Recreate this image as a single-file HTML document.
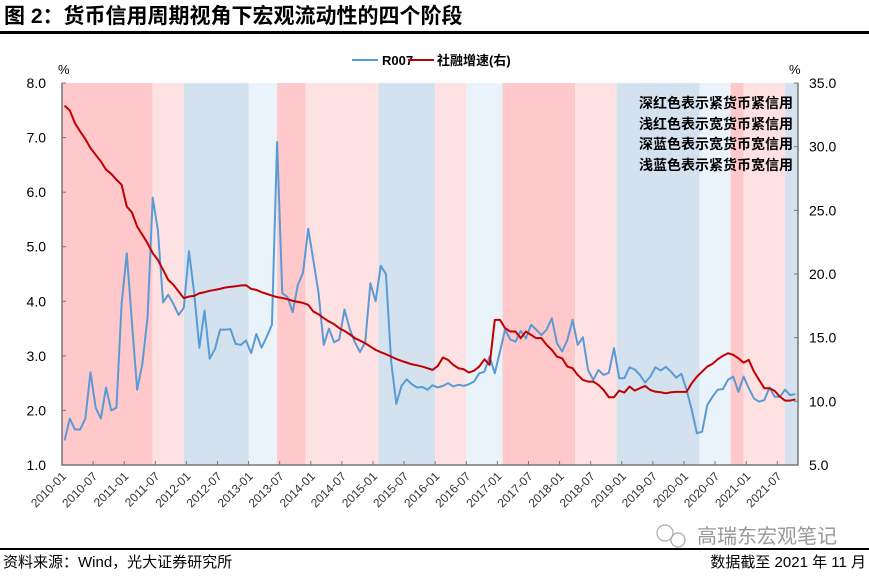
<!DOCTYPE html>
<html><head><meta charset="utf-8"><style>
body{margin:0;background:#fff;width:869px;height:573px;overflow:hidden;font-family:"Liberation Sans","Noto Sans CJK SC",sans-serif}
svg text{font-family:"Liberation Sans","Noto Sans CJK SC",sans-serif}
</style></head><body>
<svg id="c" width="869" height="573">
<text x="4" y="23" font-size="21" font-weight="bold" fill="#000">图 2：货币信用周期视角下宏观流动性的四个阶段</text>
<rect x="0" y="31" width="869" height="3" fill="#000"/>
<g id="bands"></g>
<g id="axes"></g>
<g id="series"></g>
<g>
<line x1="352" y1="60" x2="378" y2="60" stroke="#5b9bd5" stroke-width="2"/>
<text x="382" y="65" font-size="13" font-weight="bold">R007</text>
<line x1="408" y1="60" x2="434" y2="60" stroke="#c00000" stroke-width="2"/>
<text x="437" y="65" font-size="13" font-weight="bold">社融增速(右)</text>
</g>
<g font-size="14" font-weight="bold" text-anchor="end">
<text x="793" y="108">深红色表示紧货币紧信用</text>
<text x="793" y="129">浅红色表示宽货币紧信用</text>
<text x="793" y="149">深蓝色表示宽货币宽信用</text>
<text x="793" y="170">浅蓝色表示紧货币宽信用</text>
</g>
<text x="58" y="74" font-size="13">%</text>
<text x="789" y="74" font-size="13">%</text>
<g>
<circle cx="665" cy="533" r="8" fill="none" stroke="#aaa" stroke-width="1.2"/>
<circle cx="678" cy="540" r="7" fill="none" stroke="#aaa" stroke-width="1.2"/>
<text x="697" y="543" font-size="20" fill="#999">高瑞东宏观笔记</text>
</g>
<rect x="0" y="548" width="869" height="2" fill="#000"/>
<text x="3" y="567" font-size="15">资料来源：Wind，光大证券研究所</text>
<text x="866" y="567" font-size="15" text-anchor="end">数据截至 2021 年 11 月</text>
</svg>
<script>
const r007 = [1.45,1.85,1.65,1.65,1.85,2.7,2.05,1.85,2.42,2.0,
2.05,3.95,4.88,3.6,2.38,2.85,3.7,5.9,5.3,3.98,
4.12,3.95,3.75,3.88,4.92,4.15,3.15,3.83,2.95,3.12,
3.48,3.48,3.49,3.22,3.2,3.28,3.05,3.4,3.15,3.35,
3.57,6.92,4.15,4.08,3.8,4.3,4.52,5.33,4.75,4.15,
3.2,3.5,3.25,3.3,3.85,3.5,3.25,3.07,3.25,4.33,
4.0,4.65,4.5,2.9,2.12,2.45,2.57,2.48,2.42,2.43,
2.38,2.46,
2.42,2.45,2.50,2.44,2.47,2.45,2.48,2.53,2.68,2.71,
2.99,2.68,3.08,3.48,3.30,3.26,3.46,3.32,3.57,3.48,
3.38,3.48,3.69,3.23,3.08,3.29,3.66,3.20,3.34,2.74,
2.56,2.74,2.65,2.69,3.14,2.59,2.59,2.79,2.75,2.65,
2.51,2.62,2.79,2.73,2.80,2.71,2.60,2.67,2.38,2.01,
1.58,1.61,2.10,2.25,2.38,2.39,2.56,2.62,2.34,2.62,
2.41,2.22,2.16,2.19,2.42,2.25,2.25,2.38,2.28,2.30];
const tsf = [33.22,32.85,31.85,31.20,30.60,29.89,29.36,28.84,28.19,27.87,
27.40,27.01,25.30,24.83,23.73,23.08,22.42,21.64,21.11,20.33,
19.54,19.15,18.62,18.10,18.23,18.28,18.49,18.57,18.68,18.75,
18.83,18.94,18.99,19.04,19.10,19.12,18.83,18.75,18.57,18.44,
18.31,18.18,18.12,18.02,17.89,17.81,17.73,17.58,17.05,16.84,
16.53,16.27,16.06,15.74,15.53,15.27,14.96,14.77,14.56,14.30,
14.04,13.86,13.70,13.51,13.33,13.17,13.04,12.91,12.83,12.73,
12.60,12.47,
12.78,13.44,13.25,12.86,12.60,12.52,12.26,12.41,12.73,13.30,
12.86,16.40,16.40,15.74,15.48,15.48,14.96,15.48,15.22,14.96,
14.96,14.43,14.04,13.51,13.38,12.73,12.60,12.07,11.68,11.55,
11.55,11.29,10.89,10.32,10.32,10.84,10.69,11.16,10.84,11.03,
11.21,10.89,10.76,10.71,10.63,10.71,10.74,10.74,10.74,11.42,
11.94,12.34,12.73,12.94,13.30,13.57,13.78,13.65,13.38,13.04,
13.25,12.34,11.68,11.03,11.03,10.82,10.37,10.06,10.06,10.16];
const tickLabels = ["2010-01","2010-07","2011-01","2011-07","2012-01","2012-07","2013-01","2013-07","2014-01","2014-07","2015-01","2015-07","2016-01","2016-07","2017-01","2017-07","2018-01","2018-07","2019-01","2019-07","2020-01","2020-07","2021-01","2021-07"];
const leftTicks = [1,2,3,4,5,6,7,8];
const rightTicks = [5,10,15,20,25,30,35];
const bandStart = [0,17.5,23.5,36,41.5,47,61,72,78,85,99,107,123,129,131.5,139.5];
const bandEnd = [17.5,23.5,36,41.5,47,61,72,78,85,99,107,123,129,131.5,139.5,142];
const bandType = ["dr","lr","db","lb","dr","lr","db","lr","lb","dr","lr","db","lb","dr","lr","db"];
const N = 142;
const X0=62,X1=798,Y0=83,Y1=465;
const bandColor={dr:"#ffc9cb",lr:"#fee2e3",db:"#d4e2ef",lb:"#eaf2fa"};
const xc=i=>X0+(i+0.5)*(X1-X0)/N;
const xb=i=>X0+i*(X1-X0)/N;
const yl=v=>Y1-(v-1)/7*(Y1-Y0);
const yr=v=>Y1-(v-5)/30*(Y1-Y0);
const NS="http://www.w3.org/2000/svg";
function mk(tag,attrs,parent){const e=document.createElementNS(NS,tag);for(const k in attrs)e.setAttribute(k,attrs[k]);parent.appendChild(e);return e;}
const gB=document.getElementById('bands'),gA=document.getElementById('axes'),gS=document.getElementById('series');
bandStart.forEach((s,i)=>{const r=mk('rect',{x:xb(s),y:Y0,width:xb(bandEnd[i])-xb(s),height:Y1-Y0,fill:bandColor[bandType[i]]},gB);

});
const ax=mk('path',{d:`M${X0},${Y0}V${Y1}H${X1}V${Y0}`,fill:"none",stroke:"#777","stroke-width":1.5},gA);


leftTicks.forEach(v=>{mk('line',{x1:X0,x2:X0+4,y1:yl(v),y2:yl(v),stroke:"#777"},gA);
const t=mk('text',{x:46,y:yl(v)+5,"font-size":14,"text-anchor":"end"},gA);t.textContent=v.toFixed(1);

});
rightTicks.forEach(v=>{mk('line',{x1:X1-4,x2:X1,y1:yr(v),y2:yr(v),stroke:"#777"},gA);
const t=mk('text',{x:809,y:yr(v)+5,"font-size":14},gA);t.textContent=v.toFixed(1);

});
tickLabels.forEach((l,i)=>{const x=xb(i*6);mk('line',{x1:x,x2:x,y1:Y1,y2:Y1-4,stroke:"#777"},gA);
const t=mk('text',{transform:`translate(${x+5},${Y1+12}) rotate(-45)`,"font-size":12,"text-anchor":"end",fill:"#333"},gA);t.textContent=l;

});
const p1=mk('polyline',{points:r007.map((v,i)=>xc(i)+','+yl(v)).join(' '),fill:"none",stroke:"#5b9bd5","stroke-width":2,"stroke-linejoin":"round"},gS);


const p2=mk('polyline',{points:tsf.map((v,i)=>xc(i)+','+yr(v)).join(' '),fill:"none",stroke:"#c00000","stroke-width":2,"stroke-linejoin":"round"},gS);


</script>
</body></html>
